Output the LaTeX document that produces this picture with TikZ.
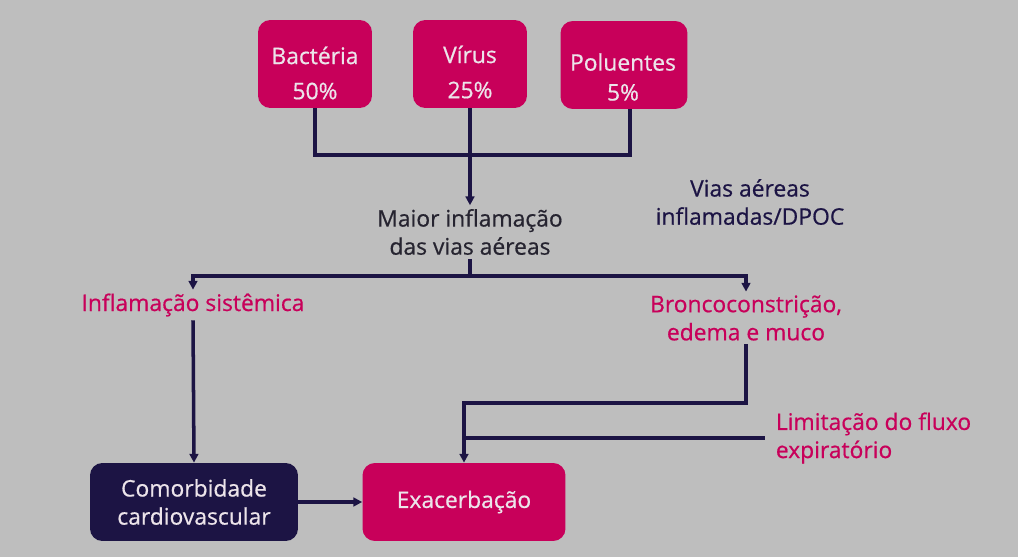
\documentclass[tikz,border=0pt]{standalone}
\usepackage{fontspec}
\setmainfont{Open Sans}[UprightFeatures={FakeBold=0.6}]
\usetikzlibrary{arrows.meta,positioning}
\definecolor{bggray}{RGB}{190,190,190}
\definecolor{crimson}{RGB}{200,0,90}
\definecolor{navy}{RGB}{28,20,68}
\definecolor{darktext}{RGB}{38,36,48}
\definecolor{boxtext}{RGB}{236,228,234}

\begin{document}
\begin{tikzpicture}[x=0.02cm, y=-0.02cm,
  cause/.style={fill=crimson, rounded corners=7pt, minimum height=1.76cm},
  boxlabel/.style={align=center, text=boxtext, inner sep=0pt, font=\fontsize{13}{20}\selectfont},
  outcome/.style={rounded corners=7pt, minimum height=1.56cm,
                align=center, text=boxtext, font=\fontsize{13}{16}\selectfont},
  label/.style={align=center, inner sep=2pt, font=\fontsize{13}{16}\selectfont},
  link/.style={line width=2pt, navy},
  arr/.style={link, -{Triangle[length=5pt, width=5pt]}}
]
  \fill[bggray] (0,0) rectangle (1018,557);
  \useasboundingbox (0,0) rectangle (1018,557);

  % causes
  \node[cause, minimum width=2.28cm] (bact) at (315,64) {};
  \node[boxlabel] (bactlbl) at (315,73) {Bactéria\\50\%};
  \node[cause, minimum width=2.28cm] (virus) at (470,64) {};
  \node[boxlabel] (viruslbl) at (470,72) {Vírus\\25\%};
  \node[cause, minimum width=2.54cm] (polu) at (624,65) {};
  \node[boxlabel, font=\fontsize{13}{17}\selectfont] (polulbl) at (623,77) {Poluentes\\5\%};

  % middle labels
  \node[label, text=darktext] (maior) at (470,232) {Maior inflamação\\das vias aéreas};
  \node[label, text=navy] (dpoc) at (750,202) {Vias aéreas\\inflamadas/DPOC};
  \node[label, text=crimson] (sist) at (193,305) {Inflamação sistêmica};
  \node[label, text=crimson] (bronco) at (746,318) {Broncoconstrição,\\edema e muco};
  \node[label, text=crimson, align=left, anchor=west] (limit) at (772,438) {Limitação do fluxo\\expiratório};

  % outcomes
  \node[outcome, fill=navy, minimum width=4.16cm] (comorb) at (194,502) {Comorbidade\\cardiovascular};
  \node[outcome, fill=crimson, minimum width=4.06cm] (exac) at (464,502) {Exacerbação};

  % junctions
  \coordinate (top) at (470,155);
  \coordinate (split) at (470,276);
  \coordinate (bend) at (464,403);

  \draw[link] (bact.south) |- (top) -| ([xshift=0.12cm]polu.south);
  \draw[arr] (virus.south) -- (maior.north);
  \draw[link] (maior.south) -- (split);
  \draw[arr] (split) -| (sist.north);
  \draw[arr] (split) -| (bronco.north);
  \draw[arr] (sist.south) -- (comorb.north);
  \draw[arr] (bronco.south) |- (bend) -- (exac.north);
  \draw[link] ([xshift=-4pt]limit.west) -- (limit.west -| bend);
  \draw[arr] (comorb.east) -- (exac.west);
\end{tikzpicture}
\end{document}
